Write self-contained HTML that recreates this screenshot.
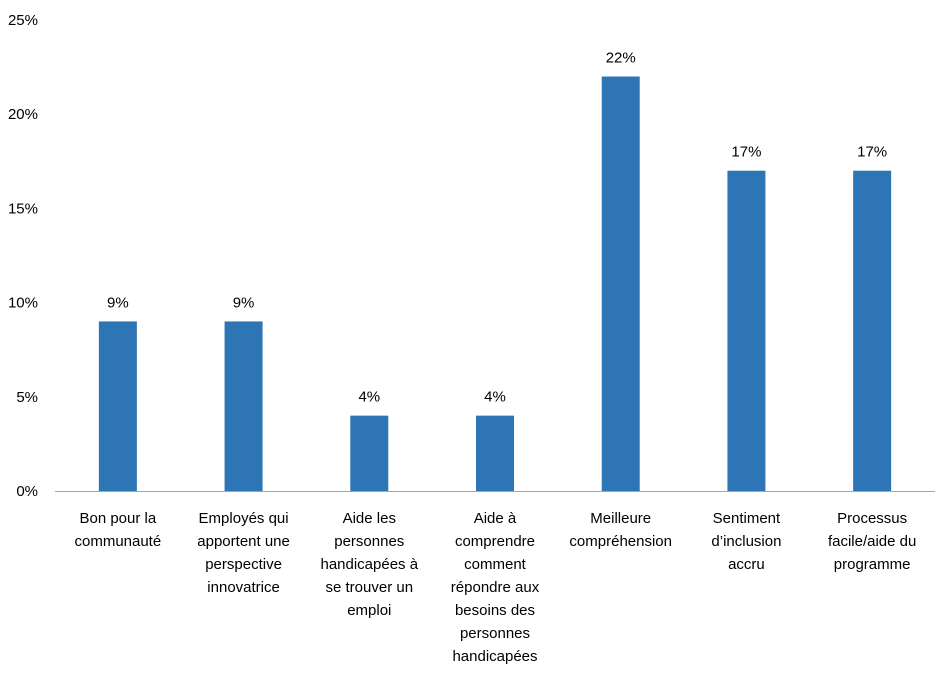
<!DOCTYPE html>
<html><head><meta charset="utf-8"><style>
body{margin:0;background:#fff;}
svg{display:block;font-family:"Liberation Sans",sans-serif;}
</style></head><body>
<svg id="chart" width="951" height="675"></svg>
<script>
const categories=[["Bon pour la","communauté"],["Employés qui","apportent une","perspective","innovatrice"],["Aide les","personnes","handicapées à","se trouver un","emploi"],["Aide à","comprendre","comment","répondre aux","besoins des","personnes","handicapées"],["Meilleure","compréhension"],["Sentiment","d’inclusion","accru"],["Processus","facile/aide du","programme"]];
const values=[9,9,4,4,22,17,17];
const valueLabels=["9%","9%","4%","4%","22%","17%","17%"];
const ticks=[0,5,10,15,20,25];
const tickLabels=["0%","5%","10%","15%","20%","25%"];
const NS="http://www.w3.org/2000/svg";
const svg=document.getElementById('chart');
const x0=55,x1=935,y0=491,yTop=20,ymax=25;
const y=v=>y0-(v/ymax)*(y0-yTop);
const band=(x1-x0)/categories.length;
const xc=i=>x0+band*(i+0.5);
function mk(t,a){const e=document.createElementNS(NS,t);for(const k in a)e.setAttribute(k,a[k]);svg.appendChild(e);return e;}
ticks.forEach((t,i)=>{
  const e=mk('text',{x:38,y:y(t)+5,'text-anchor':'end','font-size':15,fill:'#000'});
  
  
  e.textContent=tickLabels[i];
});
values.forEach((v,i)=>{
  const r=mk('rect',{x:xc(i)-19,y:y(v),width:38,height:y0-y(v),fill:'#2e75b6'});
  
  
  const t=mk('text',{x:xc(i),y:y(v)-14,'text-anchor':'middle','font-size':15,fill:'#000'});
  
  
  t.textContent=valueLabels[i];
  categories[i].forEach((line,j)=>{
    const c=mk('text',{x:xc(i),y:523+j*23,'text-anchor':'middle','font-size':15,fill:'#000'});
    
    
    c.textContent=line;
  });
});
const ax=mk('line',{x1:x0,x2:x1,y1:y0+0.5,y2:y0+0.5,stroke:'#a6a6a6','stroke-width':1});


</script>
</body></html>
